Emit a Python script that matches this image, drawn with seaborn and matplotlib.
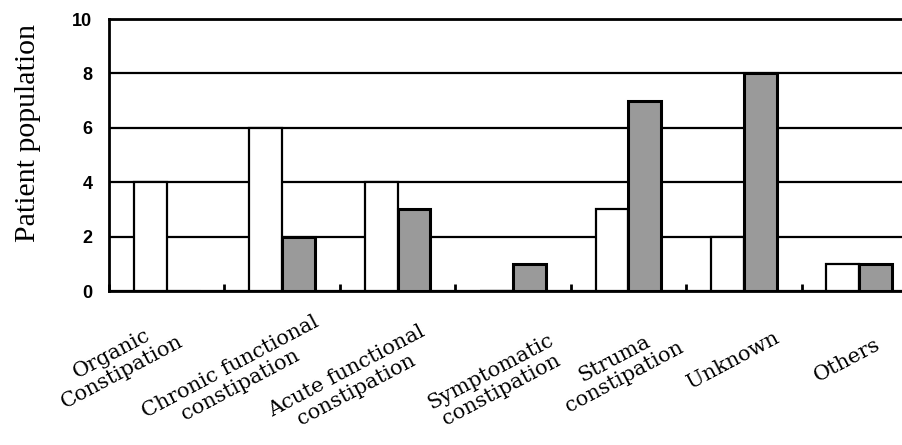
import matplotlib
matplotlib.use("Agg")
import matplotlib.pyplot as plt
import matplotlib.transforms as mtransforms
import numpy as np
import pandas as pd
import seaborn as sns

# Data
categories = ["Organic\nConstipation", "Chronic functional\nconstipation",
              "Acute functional\nconstipation", "Symptomatic\nconstipation",
              "Struma\nconstipation", "Unknown", "Others"]
white_counts = [4, 6, 4, 0, 3, 2, 1]
gray_counts = [0, 2, 3, 1, 7, 8, 1]
groups = ["Group 1", "Group 2"]
y_ticks = [0, 2, 4, 6, 8, 10]

df = pd.DataFrame({
    "category": categories * 2,
    "group": [groups[0]] * len(categories) + [groups[1]] * len(categories),
    "count": white_counts + gray_counts,
})

sns.set_style("white")
plt.rcParams["text.color"] = "black"
plt.rcParams["xtick.color"] = "black"
plt.rcParams["ytick.color"] = "black"

fig = plt.figure(figsize=(9.02, 4.45), dpi=100)
ax = fig.add_axes([109 / 902, 154 / 445, 808 / 902, 272 / 445])

sns.barplot(data=df, x="category", y="count", hue="group",
            palette=["white", "#9a9a9a"], width=0.57, gap=0,
            edgecolor="black", linewidth=1.6, legend=False, ax=ax,
            zorder=3)

# gray bars have a slightly heavier outline in the reference
for patch in ax.patches[len(categories):]:
    patch.set_linewidth(2.2)

ax.set_xlim(-0.5, len(categories) - 0.5)
ax.set_ylim(0, 10)
ax.set_yticks(y_ticks)
ax.set_axisbelow(True)
ax.yaxis.grid(True, color="black", linewidth=1.6)
ax.xaxis.grid(False)

for side in ["top", "left", "bottom", "right"]:
    ax.spines[side].set_visible(True)
    ax.spines[side].set_color("black")
    ax.spines[side].set_linewidth(2)

# y tick labels: bold narrow sans
ax.tick_params(axis="y", length=0, pad=12, labelcolor="black")
for lab in ax.get_yticklabels():
    lab.set_fontfamily(["Liberation Sans Narrow", "DejaVu Sans Condensed",
                        "Liberation Sans"])
    lab.set_fontweight("bold")
    lab.set_fontsize(13)

# category separators as small inward ticks
ax.set_xticks(np.arange(len(categories)) - 0.5, minor=True)
ax.tick_params(axis="x", which="minor", bottom=True, direction="in",
               length=5, width=2, color="black")
ax.tick_params(axis="x", which="major", length=0)
ax.set_xticklabels([])
ax.set_xlabel("")
ax.set_ylabel("")

# rotated category labels, offsets in pixels from tick centre
label_dx = [-50, -47, -46, -17, -9, -11, -12]
label_dy = [72, 85, 90, 90, 77, 69, 69]
for i, name in enumerate(categories):
    off = mtransforms.ScaledTranslation(label_dx[i] / 100, -label_dy[i] / 100,
                                        fig.dpi_scale_trans)
    ax.text(i, 0, name, transform=ax.get_xaxis_transform() + off,
            rotation=28, rotation_mode="anchor", ha="center", va="center",
            multialignment="center", fontsize=15, family="DejaVu Serif",
            linespacing=1.15, clip_on=False)

fig.text(28 / 902, 1 - 133 / 445, "Patient population", rotation=90,
         ha="center", va="center", fontsize=21.5, family="Liberation Serif")

fig.savefig("out.png", dpi=100)
